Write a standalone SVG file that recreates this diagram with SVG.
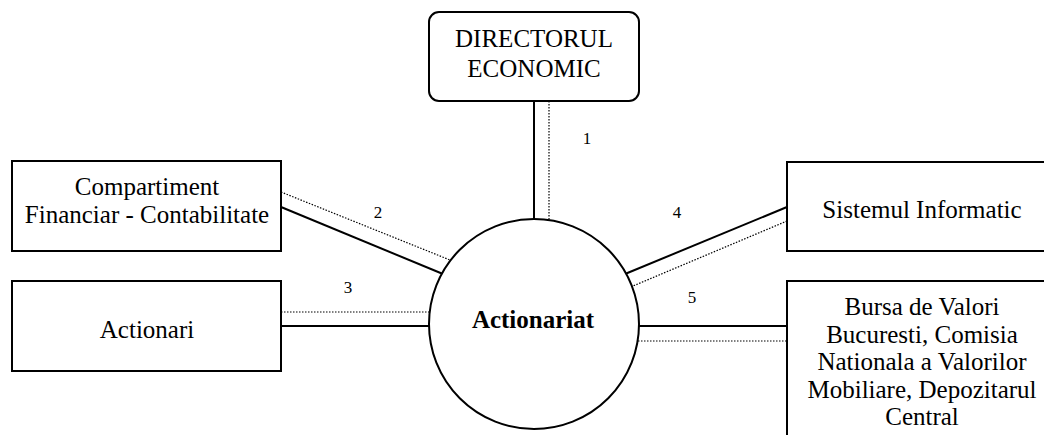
<svg xmlns="http://www.w3.org/2000/svg" width="1044" height="435" viewBox="0 0 1044 435">
  <style>
    .box { fill: #fff; stroke: #000; stroke-width: 2; }
    .txt { font-family: "Liberation Serif", "Times New Roman", serif; font-size: 25px; fill: #000; text-anchor: middle; }
    .num { font-family: "Liberation Serif", "Times New Roman", serif; font-size: 17px; fill: #000; text-anchor: middle; }
    .solid { stroke: #000; stroke-width: 2; fill: none; }
    .dot { stroke: #000; stroke-width: 1.2; stroke-dasharray: 1.5 1.5; fill: none; }
  </style>
  <rect width="1044" height="435" fill="#fff"/>

  <!-- flows between the centre and the surrounding parties -->
  <g id="connectors">
    <line class="solid" x1="534" y1="101" x2="534" y2="219"/>
    <line class="dot" x1="549" y1="101" x2="549" y2="220"/>
    <line class="solid" x1="281" y1="207" x2="443" y2="274"/>
    <line class="dot" x1="281" y1="192" x2="450" y2="260"/>
    <line class="dot" x1="281" y1="312" x2="430" y2="312"/>
    <line class="solid" x1="281" y1="326" x2="429" y2="326"/>
    <line class="solid" x1="787" y1="207" x2="625" y2="274"/>
    <line class="dot" x1="787" y1="221" x2="633" y2="286"/>
    <line class="solid" x1="639" y1="326" x2="787" y2="326"/>
    <line class="dot" x1="638" y1="341" x2="787" y2="341"/>
    <text class="num" x="587" y="144">1</text>
    <text class="num" x="378" y="218">2</text>
    <text class="num" x="348" y="293">3</text>
    <text class="num" x="677" y="218">4</text>
    <text class="num" x="692" y="303">5</text>
  </g>

  <g id="director">
    <rect class="box" x="429" y="12" width="210" height="89" rx="10" ry="10"/>
    <text class="txt" x="534" y="47">DIRECTORUL</text>
    <text class="txt" x="534" y="77">ECONOMIC</text>
  </g>

  <g id="compartiment">
    <rect class="box" x="12" y="161" width="269" height="90"/>
    <text class="txt" x="147" y="195">Compartiment</text>
    <text class="txt" x="147" y="223">Financiar - Contabilitate</text>
  </g>

  <g id="actionari">
    <rect class="box" x="12" y="281" width="269" height="90"/>
    <text class="txt" x="147" y="338">Actionari</text>
  </g>

  <g id="sistemul">
    <rect class="box" x="787" y="162" width="280" height="89"/>
    <text class="txt" x="922" y="218">Sistemul Informatic</text>
  </g>

  <g id="bursa">
    <rect class="box" x="787" y="281" width="280" height="170"/>
    <text class="txt" x="922" y="315">Bursa de Valori</text>
    <text class="txt" x="922" y="343">Bucuresti, Comisia</text>
    <text class="txt" x="922" y="370">Nationala a Valorilor</text>
    <text class="txt" x="922" y="398">Mobiliare, Depozitarul</text>
    <text class="txt" x="922" y="425">Central</text>
  </g>

  <g id="actionariat">
    <circle class="box" cx="534" cy="324" r="105"/>
    <text class="txt" x="533" y="328" font-weight="bold">Actionariat</text>
  </g>
</svg>
